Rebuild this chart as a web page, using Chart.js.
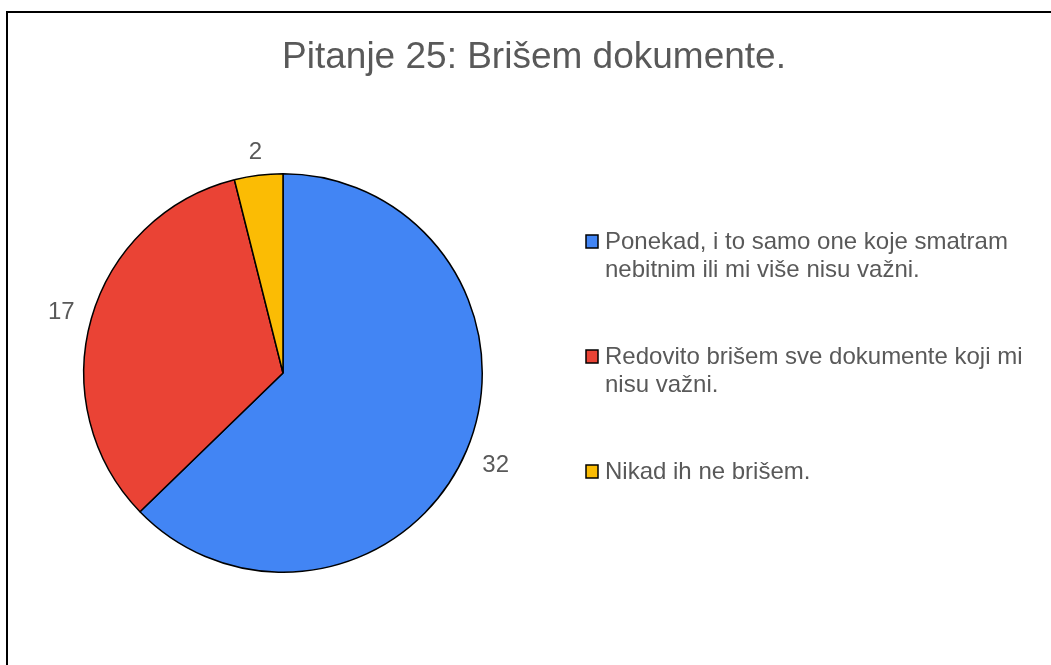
<!DOCTYPE html>
<html lang="hr">
<head>
<meta charset="UTF-8">
<title>Pitanje 25</title>
<style>
  html, body { margin: 0; padding: 0; background: #fff; }
  #wrap { position: relative; width: 1051px; height: 665px; }
</style>
</head>
<body>
<div id="wrap"><canvas id="pie"></canvas></div>
<script src="https://cdn.jsdelivr.net/npm/chart.js"></script>
<script>
  const chartTitle = "Pitanje 25: Brišem dokumente.";
  const answers = [
    ["Ponekad, i to samo one koje smatram", "nebitnim ili mi više nisu važni."],
    ["Redovito brišem sve dokumente koji mi", "nisu važni."],
    ["Nikad ih ne brišem."]
  ];
  const counts = [32, 17, 2];
  const colors = ["#4285F4", "#EA4335", "#FBBC04"];

  const FONT = "'Liberation Sans', Arial, sans-serif";
  const GREY = "#595959";

  // frame, title, outside value labels and the legend on the right
  const decor = {
    id: "decor",
    beforeDraw(chart) {
      const c = chart.ctx;
      c.save();
      c.fillStyle = "#fff";
      c.fillRect(0, 0, chart.width, chart.height);
      c.strokeStyle = "#000";
      c.lineWidth = 2;
      c.strokeRect(7, 12, 1200, 800);
      c.restore();
    },
    afterDraw(chart) {
      const c = chart.ctx;
      c.save();
      c.fillStyle = GREY;
      c.textAlign = "center";
      c.textBaseline = "alphabetic";
      c.font = "37px " + FONT;
      c.fillText(chartTitle, 534, 68);

      // value labels outside each slice, box kept ~16px off the rim
      const fs = 24;
      c.font = fs + "px " + FONT;
      const capH = fs * 0.716;
      const meta = chart.getDatasetMeta(0);
      meta.data.forEach((arc, i) => {
        const txt = String(counts[i]);
        const w = c.measureText(txt).width;
        const mid = (arc.startAngle + arc.endAngle) / 2;
        const dx = Math.cos(mid), dy = Math.sin(mid);
        const r = arc.outerRadius + 16 + Math.abs(dx) * w / 2 + Math.abs(dy) * capH / 2;
        const cx = arc.x + dx * r, cy = arc.y + dy * r;
        c.fillText(txt, cx, cy + capH / 2);
      });

      // legend
      c.textAlign = "left";
      const base = 249, step = 115, lh = 27.5;
      answers.forEach((lines, i) => {
        const y = base + i * step;
        c.fillStyle = colors[i];
        c.fillRect(586, y - 14, 12, 13);
        c.strokeStyle = "#000";
        c.lineWidth = 1.5;
        c.strokeRect(586, y - 14, 12, 13);
        c.fillStyle = GREY;
        lines.forEach((t, k) => c.fillText(t, 605, y + k * lh));
      });
      c.restore();
    }
  };

  new Chart(document.getElementById("pie"), {
    type: "pie",
    data: {
      labels: answers.map(a => a.join(" ")),
      datasets: [{
        data: counts,
        backgroundColor: colors,
        borderColor: "#000",
        borderWidth: 1.5
      }]
    },
    options: {
      responsive: true,
      maintainAspectRatio: false,
      animation: false,
      layout: { padding: { left: 83, top: 173, right: 568, bottom: 92 } },
      plugins: {
        legend: { display: false },
        title: { display: false },
        tooltip: { enabled: false }
      }
    },
    plugins: [decor]
  });
</script>
</body>
</html>
